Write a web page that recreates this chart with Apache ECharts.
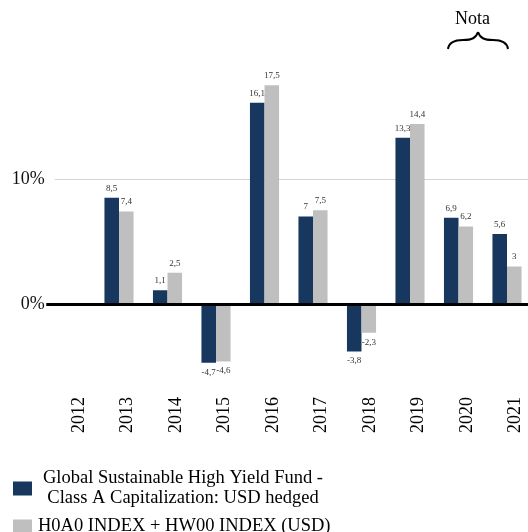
<!DOCTYPE html>
<html>
<head>
<meta charset="utf-8">
<script src="https://cdn.jsdelivr.net/npm/echarts@6/dist/echarts.min.js"></script>
<style>
html,body{margin:0;padding:0;background:#fff;}
#chart{width:528px;height:532px;}
</style>
</head>
<body>
<div id="chart"></div>
<script>
const years = ['2012','2013','2014','2015','2016','2017','2018','2019','2020','2021'];
const fundValues = [null, 8.5, 1.1, -4.7, 16.1, 7, -3.8, 13.3, 6.9, 5.6];
const indexValues = [null, 7.4, 2.5, -4.6, 17.5, 7.5, -2.3, 14.4, 6.2, 3];
const yTickLabels = ['0%', '10%'];
const fundName = 'Global Sustainable High Yield Fund - Class A Capitalization: USD hedged';
const indexName = 'H0A0 INDEX + HW00 INDEX (USD)';
const noteText = 'Nota';

const FONT = 'Liberation Serif';

function toData(arr) {
  return arr.map(v => v === null ? null : {
    value: v,
    label: { position: v < 0 ? 'bottom' : 'top' }
  });
}
function fmtVal(p) {
  if (p.value === null || p.value === undefined) return '';
  return String(p.value).replace('.', ',');
}

const braceSegs = [
  [448, 49, 449, 42, 455, 40, 463, 40],
  [463, 40, 472, 40, 476, 38, 478, 32],
  [478, 32, 480, 38, 484, 40, 493, 40],
  [493, 40, 501, 40, 507, 42, 508, 49]
];

const chart = echarts.init(document.getElementById('chart'), null, { renderer: 'canvas' });
const labelStyle = {
  show: true, fontSize: 9, color: '#333', fontFamily: FONT, distance: 5, formatter: fmtVal
};
const yBase = { type: 'value', min: -10, max: 20, interval: 10 };
chart.setOption({
  animation: false,
  backgroundColor: '#fff',
  grid: [
    { left: 46.25, width: 485, top: 54, height: 375, containLabel: false, outerBoundsMode: 'none' },
    { left: 54.75, width: 485, top: 54, height: 375, containLabel: false, outerBoundsMode: 'none' }
  ],
  legend: {
    orient: 'vertical',
    left: 13,
    top: 469,
    padding: 0,
    itemGap: 9,
    itemWidth: 19,
    itemHeight: 14,
    icon: 'rect',
    data: [fundName, indexName],
    formatter: function (name) {
      if (name === fundName) {
        return '{c|Global Sustainable High Yield Fund -\nClass A Capitalization: USD hedged}';
      }
      return '{n|' + name + '}';
    },
    textStyle: {
      fontFamily: FONT, fontSize: 18.5, color: '#000',
      rich: {
        c: { width: 292, align: 'center', fontFamily: FONT, fontSize: 18.5, lineHeight: 20, color: '#000' },
        n: { fontFamily: FONT, fontSize: 18.5, lineHeight: 20, color: '#000', padding: [0, 0, 0, 1] }
      }
    }
  },
  xAxis: [
    {
      gridIndex: 0, type: 'category', data: years, boundaryGap: true,
      axisLine: { show: false }, axisTick: { show: false }, axisLabel: { show: false }
    },
    {
      gridIndex: 1, type: 'category', data: years, boundaryGap: true,
      offset: -39,
      axisLine: { show: false },
      axisTick: { show: true, alignWithLabel: true, length: 2, lineStyle: { color: '#e6e6e6' } },
      axisLabel: { interval: 0, rotate: 90, margin: 7, fontSize: 18, color: '#000', fontFamily: FONT }
    }
  ],
  yAxis: [
    Object.assign({ gridIndex: 0, axisLine: { show: false }, axisTick: { show: false }, axisLabel: { show: false }, splitLine: { show: false } }, yBase),
    Object.assign({
      gridIndex: 1,
      axisLine: { show: false },
      axisTick: { show: false },
      axisLabel: {
        margin: 10, fontSize: 18, color: '#111', fontFamily: FONT,
        formatter: function (v) {
          const s = v + '%';
          return yTickLabels.indexOf(s) >= 0 ? s : '';
        }
      },
      splitLine: { show: true, showMinLine: false, showMaxLine: false, lineStyle: { color: '#d4d4d4', width: 1 } }
    }, yBase)
  ],
  series: [
    {
      name: fundName, type: 'bar', data: toData(fundValues),
      xAxisIndex: 0, yAxisIndex: 0,
      barGap: 0, barCategoryGap: '40%',
      itemStyle: { color: '#17375E' },
      label: labelStyle,
      markLine: {
        silent: true, symbol: 'none', label: { show: false },
        lineStyle: { color: '#000', width: 3, type: 'solid' },
        data: [{ yAxis: 0 }]
      }
    },
    {
      name: indexName, type: 'bar', data: toData(indexValues),
      xAxisIndex: 0, yAxisIndex: 0,
      barGap: 0, barCategoryGap: '40%',
      itemStyle: { color: '#BFBFBF' },
      label: labelStyle
    }
  ],
  graphic: [
    {
      type: 'text', left: 455, top: 10,
      style: { text: noteText, fontFamily: FONT, fontSize: 18, fill: '#000' }
    }
  ].concat(braceSegs.map(s => ({
    type: 'bezierCurve',
    shape: { x1: s[0], y1: s[1], cpx1: s[2], cpy1: s[3], cpx2: s[4], cpy2: s[5], x2: s[6], y2: s[7] },
    style: { fill: 'none', stroke: '#000', lineWidth: 2 }
  })))
});
</script>
</body>
</html>
